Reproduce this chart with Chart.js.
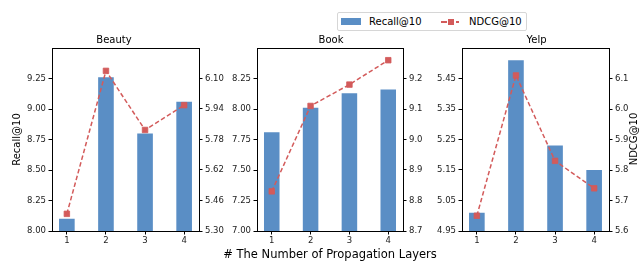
<!DOCTYPE html>
<html>
<head>
<meta charset="utf-8">
<script src="https://cdn.jsdelivr.net/npm/chart.js@4.4.1/dist/chart.umd.min.js"></script>
<style>
  body { margin: 0; background: #fff; overflow: hidden; font-family: "DejaVu Sans", sans-serif; }
  #wrap { position: relative; width: 639px; height: 262px; }
  canvas { position: absolute; top: 0; }
  #legend { position: absolute; left: 337px; top: 12px; width: 188px; height: 17px; border: 1px solid #d6d6d6; border-radius: 2px; background: #fff; }
  #legend span { position: absolute; }
  .txt { font-size: 10px; line-height: 17px; color: #000; top: 0; }
  #ylab2 { position: absolute; left: 594px; top: 132px; width: 80px; height: 14px; line-height: 14px; text-align: center; font-size: 10px; color: #000; transform: rotate(-90deg); white-space: nowrap; }
  #xlab { position: absolute; left: 230px; top: 246px; width: 200px; height: 16px; line-height: 16px; text-align: center; font-size: 11.5px; color: #000; white-space: nowrap; overflow: visible; display: flex; justify-content: center; }
</style>
</head>
<body>
<div id="wrap">
  <canvas id="beauty" width="228" height="262" style="left:0px"></canvas>
  <canvas id="book" width="206" height="262" style="left:228px"></canvas>
  <canvas id="yelp" width="205" height="262" style="left:434px"></canvas>
  <div id="legend">
    <span style="left:3px; top:5px; width:20px; height:7px; background:#5a8ec5"></span>
    <span class="txt" style="left:31px">Recall@10</span>
    <span style="left:103px; top:8px; width:6px; height:1.5px; background:#d35b5b"></span>
    <span style="left:110px; top:5.5px; width:6px; height:6px; background:#d35b5b"></span>
    <span style="left:118px; top:8px; width:3px; height:1.5px; background:#d35b5b"></span>
    <span class="txt" style="left:131px">NDCG@10</span>
  </div>
  <div id="ylab2">NDCG@10</div>
  <div id="xlab">#&nbsp;The Number of Propagation Layers</div>
</div>
<script>
const layers = [1, 2, 3, 4];

const beautyRecall = [8.10, 9.26, 8.80, 9.06];
const beautyNdcg = [5.39, 6.14, 5.83, 5.96];
const bookRecall = [7.81, 8.01, 8.13, 8.16];
const bookNdcg = [8.83, 9.11, 9.18, 9.26];
const yelpRecall = [5.01, 5.51, 5.23, 5.15];
const yelpNdcg = [5.65, 6.11, 5.83, 5.74];

const beautyRecallTicks = ['8.00', '8.25', '8.50', '8.75', '9.00', '9.25'];
const beautyNdcgTicks = ['5.30', '5.46', '5.62', '5.78', '5.94', '6.10'];
const bookRecallTicks = ['7.00', '7.25', '7.50', '7.75', '8.00', '8.25'];
const bookNdcgTicks = ['8.7', '8.8', '8.9', '9.0', '9.1', '9.2'];
const yelpRecallTicks = ['4.95', '5.05', '5.15', '5.25', '5.35', '5.45'];
const yelpNdcgTicks = ['5.6', '5.7', '5.8', '5.9', '6.0', '6.1'];

const fam = "'DejaVu Sans', sans-serif";
const blue = '#5a8ec5';
const red = '#d35b5b';
const tickFont = { family: fam, size: 8.5 };

// matplotlib draws a top spine too
const topSpine = {
  id: 'topSpine',
  afterDraw(chart) {
    const { ctx, chartArea } = chart;
    ctx.save();
    ctx.strokeStyle = '#000';
    ctx.lineWidth = 1;
    ctx.beginPath();
    ctx.moveTo(chartArea.left, Math.round(chartArea.top) + 0.5);
    ctx.lineTo(chartArea.right, Math.round(chartArea.top) + 0.5);
    ctx.stroke();
    ctx.restore();
  }
};

function eixoY(pos, labels, min, max, largura, titulo) {
  return {
    position: pos,
    min: min,
    max: max,
    afterBuildTicks: s => { s.ticks = labels.map(l => ({ value: Number(l) })); },
    afterFit: s => { s.width = largura; },
    grid: { drawOnChartArea: false, tickLength: 3.5, tickColor: '#000', tickWidth: 1 },
    border: { display: true, color: '#000', width: 1 },
    ticks: {
      font: tickFont, color: '#222', padding: 2.5,
      callback: (v) => labels.find(l => Number(l) === v) || ''
    },
    title: titulo ? { display: true, text: titulo, font: { family: fam, size: 10 }, color: '#000', padding: { top: 11, bottom: 0 } } : { display: false }
  };
}

function montarPainel(id, titulo, recall, ndcg, esq, dir) {
  return new Chart(document.getElementById(id), {
    type: 'bar',
    data: {
      datasets: [
        {
          type: 'line', label: 'NDCG@10', yAxisID: 'y1', order: 0,
          data: layers.map((l, i) => ({ x: l, y: ndcg[i] })),
          borderColor: red, backgroundColor: red, borderWidth: 1.5, borderDash: [4.5, 2.5],
          pointStyle: 'rect', pointRadius: 3.9, pointBorderWidth: 0.8, tension: 0
        },
        {
          type: 'bar', label: 'Recall@10', yAxisID: 'y', order: 1,
          data: layers.map((l, i) => ({ x: l, y: recall[i] })),
          backgroundColor: blue, barPercentage: 0.4, categoryPercentage: 1
        }
      ]
    },
    options: {
      responsive: false,
      animation: false,
      events: [],
      layout: { padding: 0 },
      plugins: {
        legend: { display: false },
        tooltip: { enabled: false },
        title: { display: true, text: titulo, color: '#000', font: { family: fam, size: 10, weight: 'normal' }, padding: { top: 34, bottom: 2 } }
      },
      scales: {
        x: {
          type: 'linear', min: 0.62, max: 4.38, offset: false,
          afterBuildTicks: s => { s.ticks = layers.map(v => ({ value: v })); },
          afterFit: s => { s.height = 31; },
          grid: { drawOnChartArea: false, tickLength: 3.5, tickColor: '#000', tickWidth: 1, offset: false },
          border: { display: true, color: '#000', width: 1 },
          ticks: { font: tickFont, color: '#222', padding: 1, maxRotation: 0, callback: v => String(v) }
        },
        y: eixoY('left', esq.labels, esq.min, esq.max, esq.w, esq.titulo),
        y1: eixoY('right', dir.labels, dir.min, dir.max, dir.w, null)
      }
    },
    plugins: [topSpine]
  });
}

montarPainel('beauty', 'Beauty', beautyRecall, beautyNdcg,
  { labels: beautyRecallTicks, min: 8.0, max: 9.5, w: 52, titulo: 'Recall@10' },
  { labels: beautyNdcgTicks, min: 5.30, max: 6.26, w: 29 });

montarPainel('book', 'Book', bookRecall, bookNdcg,
  { labels: bookRecallTicks, min: 7.0, max: 8.5, w: 29 },
  { labels: bookNdcgTicks, min: 8.7, max: 9.3, w: 31 });

montarPainel('yelp', 'Yelp', yelpRecall, yelpNdcg,
  { labels: yelpRecallTicks, min: 4.95, max: 5.55, w: 28 },
  { labels: yelpNdcgTicks, min: 5.6, max: 6.2, w: 30 });
</script>
</body>
</html>
